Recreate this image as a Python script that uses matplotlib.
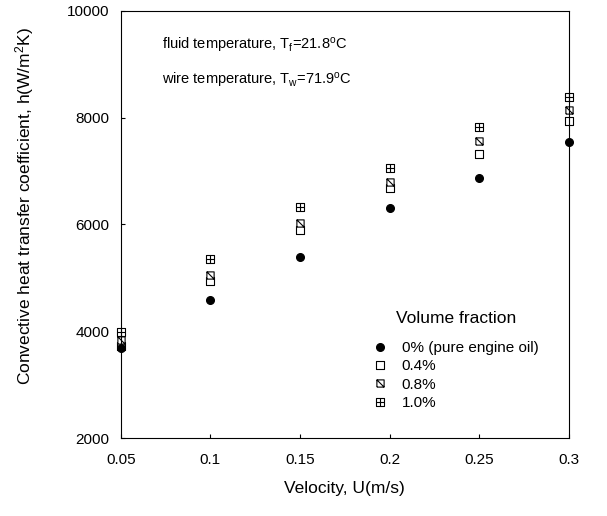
import numpy as np
import matplotlib
matplotlib.use("Agg")
import matplotlib.pyplot as plt
from matplotlib.path import Path

plt.rcParams['font.family'] = ['Liberation Sans', 'DejaVu Sans']
plt.rcParams['mathtext.fontset'] = 'custom'
plt.rcParams['mathtext.rm'] = 'Liberation Sans'
plt.rcParams['mathtext.it'] = 'Liberation Sans'

# data
velocity = [0.05, 0.1, 0.15, 0.2, 0.25, 0.3]
h_0 = [3680, 4594, 5387, 6300, 6869, 7537]
h_04 = [3730, 4937, 5894, 6681, 7312, 7944]
h_08 = [3844, 5062, 6019, 6794, 7562, 8144]
h_10 = [3987, 5356, 6331, 7062, 7819, 8394]
labels = ['0% (pure engine oil)', '0.4%', '0.8%', '1.0%']

# plain square, square with a diagonal, square with a cross
M, L = Path.MOVETO, Path.LINETO
sq = [(-1, -1), (1, -1), (1, 1), (-1, 1), (-1, -1)]
open_sq = Path(sq, [M, L, L, L, L])
diag_sq = Path(sq + [(-1, 1), (1, -1)], [M, L, L, L, L, M, L])
cross_sq = Path(sq + [(0, -1), (0, 1), (-1, 0), (1, 0)], [M, L, L, L, L, M, L, M, L])

fig = plt.figure(figsize=(6.07, 5.16), dpi=100)
ax = fig.add_axes([0.199, 0.151, 0.738, 0.828])

kw = dict(linestyle='none', color='black', markerfacecolor='white', markeredgewidth=0.8, clip_on=False)
ax.plot(velocity, h_04, marker=open_sq, markersize=5.2, label=labels[1], **kw)
ax.plot(velocity, h_08, marker=diag_sq, markersize=5.2, label=labels[2], **kw)
ax.plot(velocity, h_10, marker=cross_sq, markersize=5.2, label=labels[3], **kw)
ax.plot(velocity, h_0, 'o', color='black', markersize=5.5, label=labels[0], clip_on=False, zorder=4)

ax.set_xlim(0.05, 0.3)
ax.set_ylim(2000, 10000)
ax.set_xticks([0.05, 0.1, 0.15, 0.2, 0.25, 0.3])
ax.set_xticklabels(['0.05', '0.1', '0.15', '0.2', '0.25', '0.3'])
ax.set_yticks([2000, 4000, 6000, 8000, 10000])
ax.tick_params(direction='in', length=3, labelsize=11)
ax.tick_params(axis='x', pad=11)
ax.tick_params(axis='y', pad=8)
for s in ax.spines.values():
    s.set_linewidth(0.8)

ax.set_xlabel('Velocity, U(m/s)', fontsize=12.5, labelpad=10)
ax.set_ylabel('Convective heat transfer coefficient, h(W/m$^2$K)', fontsize=12.5)
ax.yaxis.set_label_coords(-0.19, 0.543)

ax.text(0.0728, 9350, 'fluid temperature, T$_f$=21.8$^o$C', fontsize=10.5, va='center')
ax.text(0.0728, 8700, 'wire temperature, T$_w$=71.9$^o$C', fontsize=10.5, va='center')

ax.text(0.615, 0.28, 'Volume fraction', transform=ax.transAxes, fontsize=12.5, va='center')
h, l = ax.get_legend_handles_labels()
order = [3, 0, 1, 2]
ax.legend([h[i] for i in order], [l[i] for i in order], loc='upper left',
          bbox_to_anchor=(0.545, 0.245), frameon=False, fontsize=11,
          handlelength=1.0, handletextpad=0.9, labelspacing=0.28, borderpad=0)

fig.savefig('out.png', dpi=100)
